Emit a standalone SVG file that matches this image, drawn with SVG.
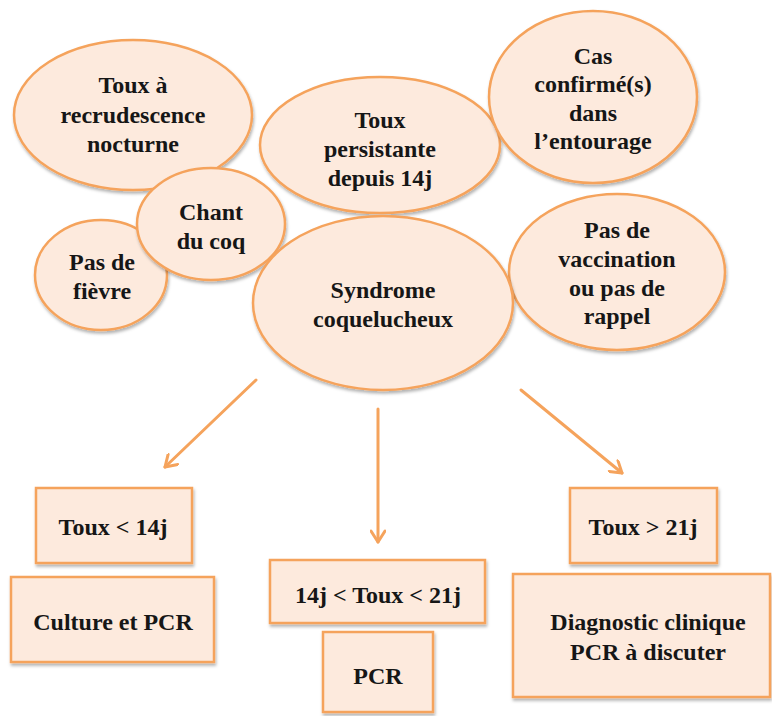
<svg xmlns="http://www.w3.org/2000/svg" width="772" height="716" viewBox="0 0 772 716">
<defs>
<filter id="sh" x="-10%" y="-10%" width="125%" height="130%">
<feDropShadow dx="1" dy="2.5" stdDeviation="1.5" flood-color="#000" flood-opacity="0.3"/>
</filter>
<marker id="ah" viewBox="0 0 16 16" refX="13" refY="8" markerWidth="16" markerHeight="16" markerUnits="userSpaceOnUse" orient="auto">
<path d="M2,1 L13,8 L2,15" fill="none" stroke="#f5a35c" stroke-width="3" stroke-linecap="round" stroke-linejoin="round"/>
</marker>
</defs>
<style>
.n ellipse, .n rect { fill:#fdeadd; stroke:#f5a35c; stroke-width:2.5; filter:url(#sh); }
.n text { font-family:"Liberation Serif","DejaVu Serif","Noto Serif",Tinos,FreeSerif,Times,serif; font-weight:700; font-size:24px; fill:#161616; text-anchor:middle; }
.c line { stroke:#f5a35c; stroke-width:3; stroke-linecap:round; marker-end:url(#ah); }
</style>
<rect width="772" height="716" fill="#ffffff"/>
<g id="n-recrudescence" class="n">
<ellipse cx="133" cy="115" rx="119" ry="75"/>
<text x="133" y="93">Toux à</text>
<text x="133" y="123">recrudescence</text>
<text x="133" y="152">nocturne</text>
</g>
<g id="n-fievre" class="n">
<ellipse cx="101" cy="275" rx="66" ry="55"/>
<text x="102" y="270">Pas de</text>
<text x="102" y="299">fièvre</text>
</g>
<g id="n-chant" class="n">
<ellipse cx="211" cy="224" rx="74" ry="56"/>
<text x="211" y="220">Chant</text>
<text x="211" y="249">du coq</text>
</g>
<g id="n-persistante" class="n">
<ellipse cx="380" cy="145" rx="120" ry="68"/>
<text x="380" y="128">Toux</text>
<text x="380" y="157">persistante</text>
<text x="380" y="186">depuis 14j</text>
</g>
<g id="n-cas" class="n">
<ellipse cx="593" cy="97" rx="104" ry="86"/>
<text x="593" y="64">Cas</text>
<text x="593" y="92">confirmé(s)</text>
<text x="593" y="121">dans</text>
<text x="593" y="149">l’entourage</text>
</g>
<g id="n-vaccination" class="n">
<ellipse cx="617" cy="272" rx="108" ry="78"/>
<text x="617" y="238">Pas de</text>
<text x="617" y="267">vaccination</text>
<text x="617" y="296">ou pas de</text>
<text x="617" y="324">rappel</text>
</g>
<g id="n-syndrome" class="n">
<ellipse cx="383" cy="303" rx="130" ry="87"/>
<text x="383" y="298">Syndrome</text>
<text x="383" y="327">coquelucheux</text>
</g>

<g id="connectors" class="c">
<line x1="256" y1="380" x2="165" y2="467"/>
<line x1="378" y1="409" x2="378" y2="542"/>
<line x1="521" y1="390" x2="622" y2="473"/>
</g>

<g id="n-toux14" class="n">
<rect x="36" y="488" width="156" height="75"/>
<text x="113" y="535">Toux &lt; 14j</text>
</g>
<g id="n-culture" class="n">
<rect x="11" y="577" width="203" height="85"/>
<text x="113" y="630">Culture et PCR</text>
</g>
<g id="n-toux1421" class="n">
<rect x="270" y="560" width="215" height="63"/>
<text x="378" y="603">14j &lt; Toux &lt; 21j</text>
</g>
<g id="n-pcr" class="n">
<rect x="323" y="632" width="110" height="80"/>
<text x="378" y="684">PCR</text>
</g>
<g id="n-toux21" class="n">
<rect x="570" y="488" width="147" height="75"/>
<text x="643" y="535">Toux &gt; 21j</text>
</g>
<g id="n-diagnostic" class="n">
<rect x="513" y="574" width="257" height="123"/>
<text x="648" y="630">Diagnostic clinique</text>
<text x="648" y="660">PCR à discuter</text>
</g>
</svg>
